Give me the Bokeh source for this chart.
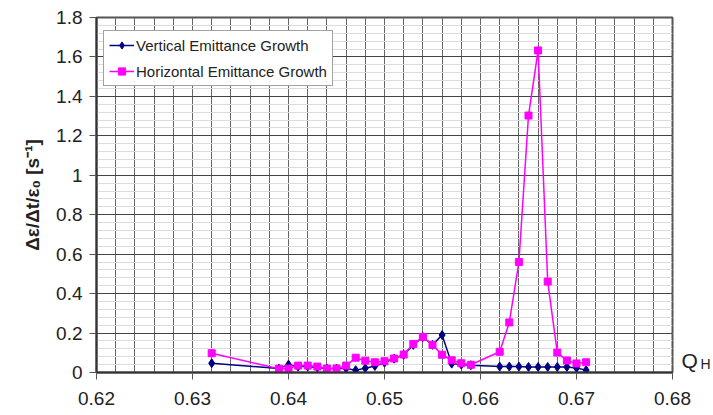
from bokeh.plotting import figure
from bokeh.models import FixedTicker, Range1d, Legend, LegendItem, LinearAxis
from bokeh.embed import file_html
from bokeh.resources import INLINE

# Data
q_v = [0.632, 0.639, 0.640, 0.641, 0.642, 0.643, 0.644, 0.645, 0.646, 0.647, 0.648, 0.649,
       0.650, 0.651, 0.652, 0.653, 0.654, 0.655, 0.656, 0.657, 0.658, 0.659,
       0.662, 0.663, 0.664, 0.665, 0.666, 0.667, 0.668, 0.669, 0.670, 0.671]
vert = [0.047, 0.020, 0.040, 0.030, 0.030, 0.025, 0.020, 0.020, 0.020, 0.012, 0.022, 0.033,
        0.050, 0.070, 0.090, 0.140, 0.180, 0.140, 0.190, 0.045, 0.040, 0.037,
        0.030, 0.030, 0.030, 0.028, 0.028, 0.028, 0.028, 0.028, 0.023, 0.012]

q_h = [0.632, 0.639, 0.640, 0.641, 0.642, 0.643, 0.644, 0.645, 0.646, 0.647, 0.648, 0.649,
       0.650, 0.651, 0.652, 0.653, 0.654, 0.655, 0.656, 0.657, 0.658, 0.659,
       0.662, 0.663, 0.664, 0.665, 0.666, 0.667, 0.668, 0.669, 0.670, 0.671]
horiz = [0.098, 0.019, 0.020, 0.035, 0.035, 0.030, 0.020, 0.020, 0.035, 0.075, 0.060, 0.052,
         0.057, 0.071, 0.091, 0.145, 0.180, 0.140, 0.090, 0.062, 0.047, 0.039,
         0.105, 0.254, 0.560, 1.303, 1.633, 0.461, 0.101, 0.061, 0.046, 0.052]

x_ticks = [0.62, 0.63, 0.64, 0.65, 0.66, 0.67, 0.68]
y_ticks = [0, 0.2, 0.4, 0.6, 0.8, 1, 1.2, 1.4, 1.6, 1.8]
x_grid = [round(0.62 + 0.002 * i, 3) for i in range(31)]
y_minor = [round(0.04 * i, 2) for i in range(46)]
x_axis_name = "Q"
x_axis_sub = "H"

FONT = "Liberation Sans"

p = figure(width=713, height=415, output_backend="svg", toolbar_location=None,
           x_range=Range1d(0.62, 0.68), y_range=Range1d(0, 1.8),
           min_border_left=96, min_border_right=37, min_border_top=17, min_border_bottom=43)

p.outline_line_color = "#555555"
p.outline_line_width = 2

# axes
p.xaxis.ticker = FixedTicker(ticks=x_ticks)
p.yaxis.ticker = FixedTicker(ticks=y_ticks, minor_ticks=y_minor)
p.yaxis.major_label_overrides = {0: "0", 1: "1"}
for ax in (p.xaxis[0], p.yaxis[0]):
    ax.major_label_text_font = FONT
    ax.major_label_text_font_size = "19px"
    ax.major_label_text_color = "#222222"
    ax.axis_line_color = "#333333"
    ax.axis_line_width = 2
    ax.major_tick_line_color = "#555555"
    ax.major_tick_in = 0
    ax.major_tick_out = 7
    ax.minor_tick_line_color = None
p.xaxis.major_label_standoff = 12
p.yaxis.major_label_standoff = 7
p.yaxis.axis_label = "Δε/Δt/ε₀ [s⁻¹]"
p.yaxis.axis_label_text_font = FONT
p.yaxis.axis_label_text_font_size = "19px"
p.yaxis.axis_label_text_font_style = "bold"
p.yaxis.axis_label_text_color = "#222222"
p.yaxis.axis_label_standoff = 10

# "Q_H" axis name at the right end of the x axis
for name, yv, size, standoff in ((x_axis_name, 0.062, "21px", 9), (x_axis_sub, 0.045, "14px", 0)):
    ra = LinearAxis(ticker=FixedTicker(ticks=[yv]), major_label_overrides={yv: name})
    ra.axis_line_color = None
    ra.major_tick_line_color = None
    ra.minor_tick_line_color = None
    ra.major_tick_out = 0
    ra.major_tick_in = 0
    ra.major_label_standoff = standoff
    ra.major_label_text_font = FONT
    ra.major_label_text_font_size = size
    ra.major_label_text_color = "#222222"
    p.add_layout(ra, "right")

# grids
p.xgrid.ticker = FixedTicker(ticks=x_grid)
p.xgrid.grid_line_color = "#666666"
p.xgrid.grid_line_width = 1
p.ygrid.grid_line_color = "#444444"
p.ygrid.grid_line_width = 1
p.ygrid.minor_grid_line_color = "#dcdcdc"
p.ygrid.minor_grid_line_width = 1

# series
lv = p.line(q_v, vert, line_color="#000080", line_width=1.5)
mv = p.scatter(q_v, vert, marker="diamond", size=9, fill_color="#000080", line_color="#000080")
lh = p.line(q_h, horiz, line_color="#FF00FF", line_width=1.5)
mh = p.scatter(q_h, horiz, marker="square", size=7, fill_color="#FF00FF", line_color="#FF00FF")

legend = Legend(items=[LegendItem(label="Vertical Emittance Growth", renderers=[lv, mv]),
                       LegendItem(label="Horizontal Emittance Growth", renderers=[lh, mh])],
                location=(7, 286), orientation="vertical")
legend.label_text_font = FONT
legend.label_text_font_size = "15px"
legend.label_text_color = "#222222"
legend.glyph_width = 25
legend.glyph_height = 18
legend.label_height = 18
legend.label_standoff = 2
legend.spacing = 8
legend.padding = 5
legend.margin = 0
legend.border_line_color = "#444444"
legend.border_line_width = 1
legend.background_fill_color = "white"
legend.background_fill_alpha = 1
p.add_layout(legend)

open("out.html", "w").write(file_html(p, INLINE))
